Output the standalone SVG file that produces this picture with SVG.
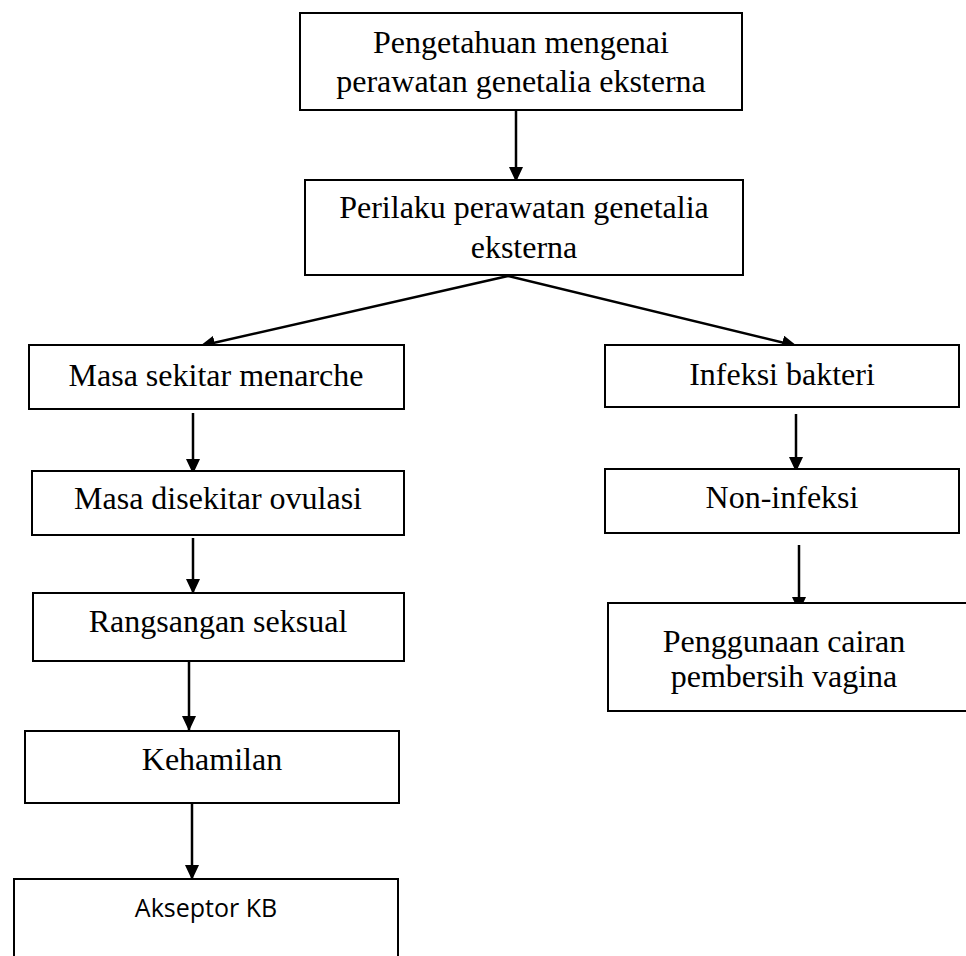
<svg xmlns="http://www.w3.org/2000/svg" width="966" height="956" viewBox="0 0 966 956">
<style>
.box{fill:#fff;stroke:#000;stroke-width:2}
.t{font-family:"Liberation Serif","Times New Roman",serif;font-size:32px;fill:#000;text-anchor:middle}
.s{font-family:"Open Sans","Liberation Sans",sans-serif;font-size:25px;fill:#000;text-anchor:middle}
.c{stroke:#000;stroke-width:2.5;fill:none;marker-end:url(#ah)}
</style>
<defs>
<marker id="ah" viewBox="0 0 15 14" refX="15" refY="7" markerWidth="15" markerHeight="14" markerUnits="userSpaceOnUse" orient="auto">
<path d="M0,0 L15,7 L0,14 Z" fill="#000"/>
</marker>
</defs>
<rect width="966" height="956" fill="#fff"/>
<g id="connectors">
<line class="c" x1="516" y1="110" x2="516" y2="182"/>
<line class="c" x1="508" y1="276" x2="200" y2="346"/>
<line class="c" x1="508" y1="276" x2="797" y2="346"/>
<line class="c" x1="193" y1="413" x2="193" y2="474"/>
<line class="c" x1="193" y1="538" x2="193" y2="594"/>
<line class="c" x1="189" y1="661" x2="189" y2="731"/>
<line class="c" x1="192" y1="803" x2="192" y2="880"/>
<line class="c" x1="796" y1="414" x2="796" y2="472"/>
<line class="c" x1="799" y1="545" x2="799" y2="612"/>
</g>
<g id="n1"><rect class="box" x="300" y="13" width="442" height="97"/>
<text class="t" x="521" y="53">Pengetahuan mengenai</text>
<text class="t" x="521" y="92">perawatan genetalia eksterna</text></g>
<g id="n2"><rect class="box" x="305" y="180" width="438" height="95"/>
<text class="t" x="524" y="218">Perilaku perawatan genetalia</text>
<text class="t" x="524" y="258">eksterna</text></g>
<g id="n3"><rect class="box" x="29" y="345" width="375" height="64"/>
<text class="t" x="216" y="386">Masa sekitar menarche</text></g>
<g id="n4"><rect class="box" x="32" y="471" width="372" height="64"/>
<text class="t" x="218" y="509">Masa disekitar ovulasi</text></g>
<g id="n5"><rect class="box" x="33" y="593" width="371" height="68"/>
<text class="t" x="218" y="632">Rangsangan seksual</text></g>
<g id="n6"><rect class="box" x="25" y="731" width="374" height="72"/>
<text class="t" x="212" y="770">Kehamilan</text></g>
<g id="n7"><rect class="box" x="14" y="879" width="384" height="90"/>
<text class="s" x="206" y="917">Akseptor KB</text></g>
<g id="n8"><rect class="box" x="605" y="345" width="354" height="62"/>
<text class="t" x="782" y="385">Infeksi bakteri</text></g>
<g id="n9"><rect class="box" x="605" y="469" width="354" height="64"/>
<text class="t" x="782" y="508">Non-infeksi</text></g>
<g id="n10"><rect class="box" x="608" y="603" width="370" height="108"/>
<text class="t" x="784" y="652">Penggunaan cairan</text>
<text class="t" x="784" y="687">pembersih vagina</text></g>
</svg>
